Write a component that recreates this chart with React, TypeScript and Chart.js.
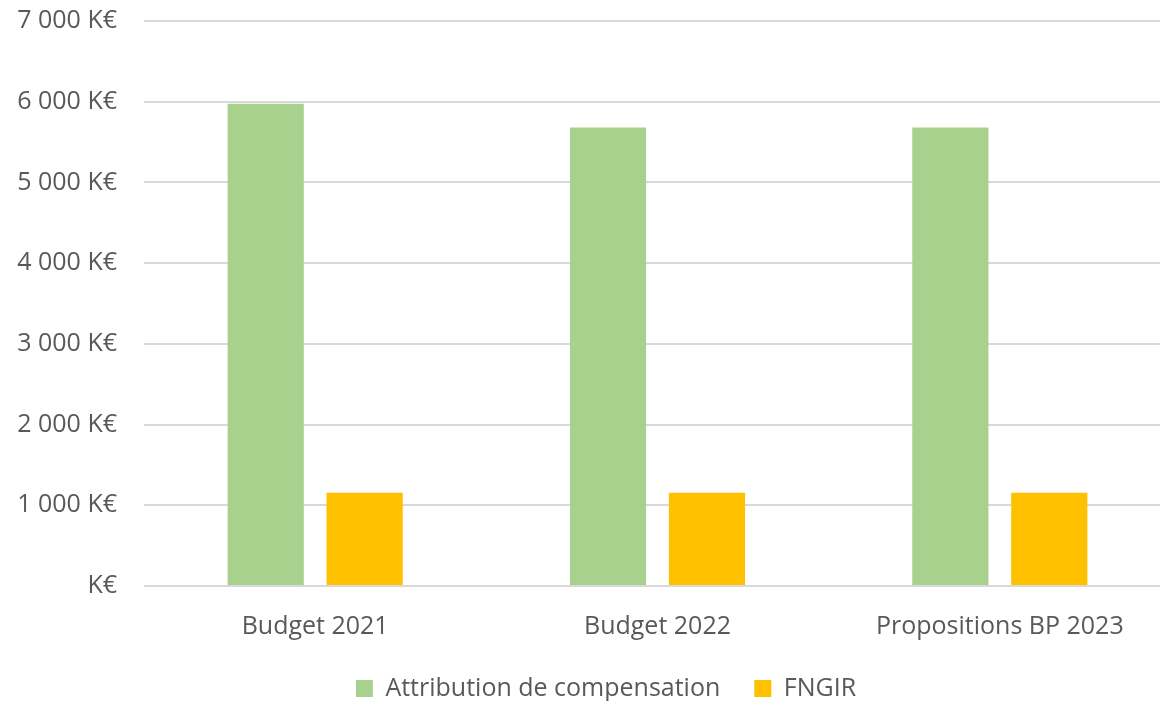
import React, { useEffect, useRef } from "react";
import { Chart, registerables } from "chart.js";

Chart.register(...registerables);

const categories = ["Budget 2021", "Budget 2022", "Propositions BP 2023"];
const attributionValues = [5975, 5680, 5680];
const fngirValues = [1155, 1155, 1155];
const seriesNames = ["Attribution de compensation", "FNGIR"];

const TEXT = "#595959";
const FONT = "Open Sans";

function fmt(v: number): string {
  if (v === 0) return "K€";
  const s = String(Math.round(v));
  return s.replace(/\B(?=(\d{3})+(?!\d))/g, " ") + " K€";
}

const shiftLegend = {
  id: "shiftLegend",
  afterLayout(chart: any) {
    if (chart.legend) {
      chart.legend.left = 41;
    }
  },
};

export default function App() {
  const ref = useRef<HTMLCanvasElement | null>(null);
  useEffect(() => {
    if (!ref.current) return;
    const chart = new Chart(ref.current, {
      type: "bar",
      data: {
        labels: categories,
        datasets: [
          {
            label: seriesNames[0],
            data: attributionValues,
            backgroundColor: "#a9d18e",
            categoryPercentage: 0.578,
            barPercentage: 0.77,
          },
          {
            label: seriesNames[1],
            data: fngirValues,
            backgroundColor: "#ffc000",
            categoryPercentage: 0.578,
            barPercentage: 0.77,
          },
        ],
      },
      options: {
        responsive: false,
        animation: false,
        layout: { padding: { top: 0, left: 0, right: 0, bottom: 0 } },
        plugins: {
          tooltip: { enabled: false },
          legend: {
            position: "bottom",
            labels: {
              boxWidth: 17,
              boxHeight: 17,
              padding: 34,
              color: TEXT,
              font: { family: FONT, size: 25 },
            },
          },
        },
        scales: {
          x: {
            grid: { display: false, drawTicks: false },
            border: { display: false },
            ticks: {
              color: TEXT,
              padding: 26,
              maxRotation: 0,
              font: { family: FONT, size: 25 },
            },
            afterFit: (scale: any) => {
              scale.height = 56;
            },
          },
          y: {
            min: 0,
            max: 7000,
            grid: { color: "#d9d9d9", lineWidth: 2, drawTicks: false },
            border: { display: false },
            ticks: {
              stepSize: 1000,
              color: TEXT,
              padding: 27,
              font: { family: FONT, size: 25 },
              callback: (v: any) => fmt(Number(v)),
            },
            afterFit: (scale: any) => {
              scale.width = 144;
              scale.paddingTop = 21;
              scale.paddingBottom = 15;
            },
          },
        },
      },
      plugins: [shiftLegend],
    });
    return () => chart.destroy();
  }, []);
  return (
    <div style={{ position: "absolute", left: 0, top: 0, width: 1160, height: 701, overflow: "hidden", background: "#fff" }}>
      <canvas ref={ref} width={1171} height={711} style={{ display: "block" }} />
    </div>
  );
}
